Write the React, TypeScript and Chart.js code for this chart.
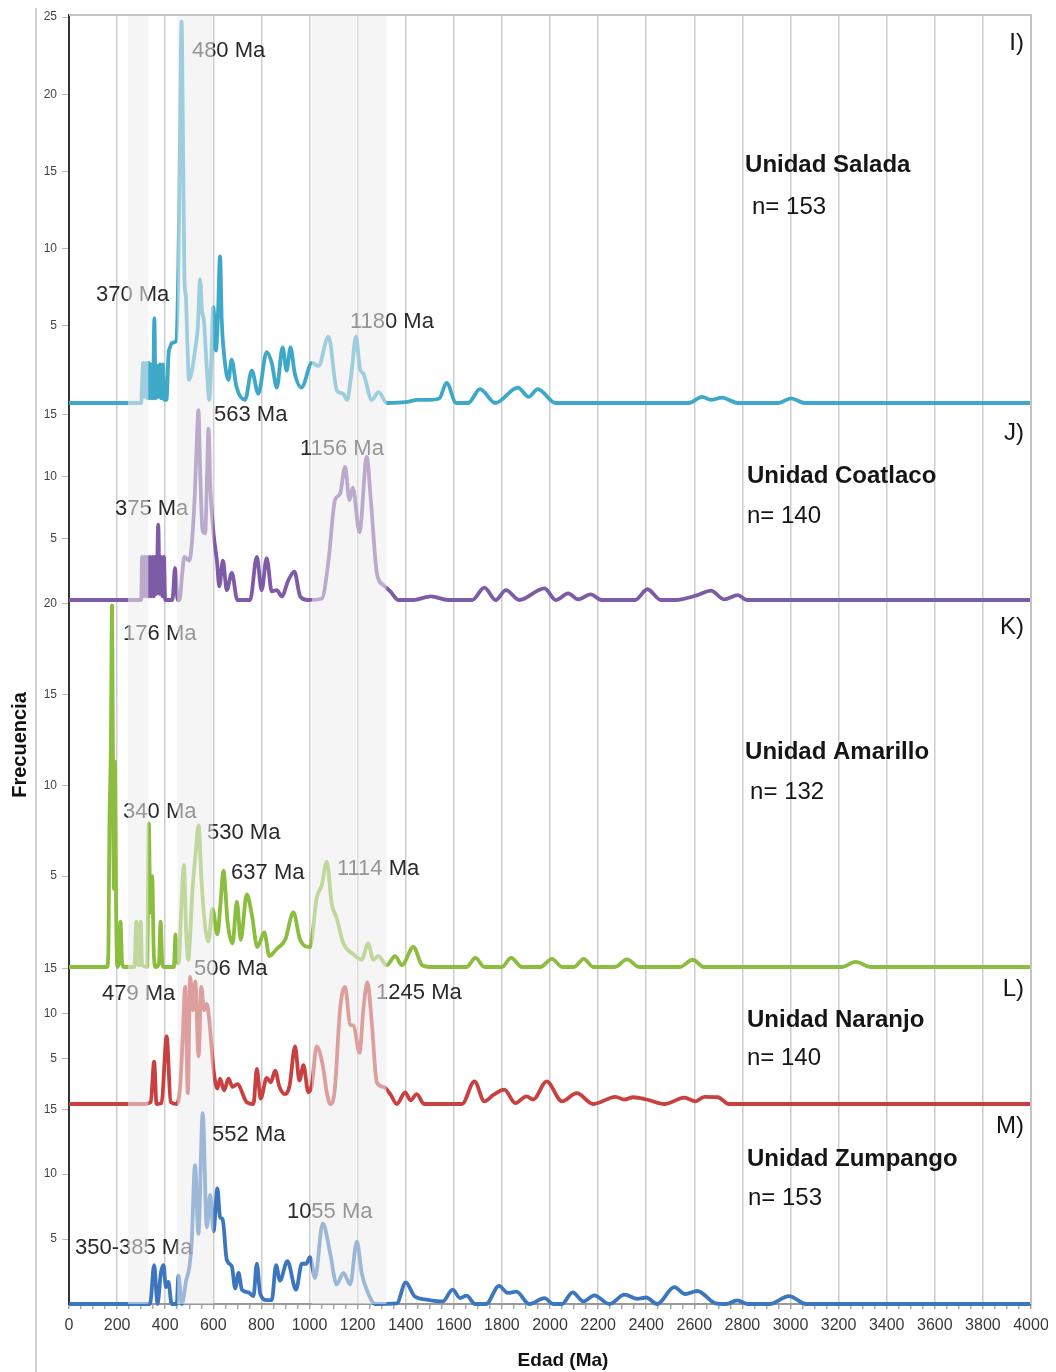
import React, { useEffect, useRef } from 'react';
import { Chart, registerables } from 'chart.js';

Chart.register(...registerables);

const FONT = "'Liberation Sans', Arial, Helvetica, sans-serif";

// ---------- data (age in Ma, relative frequency) ----------
const saladaAge = [0, 300, 308, 314, 320, 326, 332, 338, 344, 349, 355, 360, 366, 372, 378, 384, 390, 397, 405, 414, 420, 428, 445, 455, 462, 468, 474, 480, 486, 492, 499, 510, 524, 536, 545, 553, 561, 572, 584, 592, 600, 611, 620, 628, 635, 645, 663, 676, 697, 732, 760, 787, 822, 843, 864, 888, 905, 921, 939, 967, 1010, 1037, 1079, 1114, 1140, 1156, 1175, 1193, 1210, 1224, 1259, 1287, 1322, 1400, 1450, 1500, 1540, 1570, 1610, 1660, 1709, 1773, 1866, 1912, 1949, 2023, 2578, 2632, 2670, 2715, 2780, 2950, 3002, 3060, 4000];
const saladaFreq = [0, 0, 2.6, 0.4, 2.6, 0.3, 2.6, 0.3, 2.5, 0.3, 5.5, 0.3, 2.4, 0.4, 2.5, 0.3, 2.5, 0.2, 0.2, 3.2, 3.6, 3.9, 4.0, 9, 18, 24.7, 17, 8, 6.9, 4, 1.5, 2.0, 3.4, 5, 8.0, 6, 5.3, 2.5, 0.2, 3, 6.2, 3.4, 6, 9.5, 5.4, 3.1, 1.5, 2.8, 1.0, 0.2, 2.1, 0.6, 3.3, 2.6, 1.0, 3.6, 2.1, 3.6, 1.9, 1.0, 2.6, 2.4, 4.3, 0.8, 0.6, 0.2, 2, 4.3, 2.2, 1.9, 0.2, 0.7, 0, 0.05, 0.2, 0.2, 0.3, 1.3, 0, 0, 0.9, 0, 1.0, 0.4, 0.9, 0, 0, 0.4, 0.2, 0.35, 0, 0, 0.3, 0, 0];

const coatlacoAge = [0, 300, 304, 309, 315, 320, 326, 331, 337, 342, 348, 353, 359, 364, 371, 377, 383, 389, 395, 400, 430, 441, 452, 460, 470, 480, 500, 520, 530, 538, 546, 555, 566, 574, 580, 588, 601, 615, 625, 640, 656, 677, 700, 753, 781, 801, 822, 843, 864, 885, 912, 937, 961, 989, 1051, 1079, 1106, 1127, 1148, 1166, 1180, 1208, 1238, 1255, 1280, 1308, 1336, 1370, 1432, 1505, 1575, 1677, 1727, 1774, 1817, 1872, 1977, 2024, 2076, 2117, 2169, 2215, 2354, 2405, 2461, 2520, 2614, 2669, 2724, 2781, 2818, 4000];
const coatlacoFreq = [0, 0, 3.5, 0.3, 3.5, 0.3, 3.5, 0.3, 3.5, 0.3, 3.5, 0.3, 3.5, 0.5, 6.1, 0.5, 3.5, 0.3, 3.5, 0, 0, 2.6, 0, 0, 2, 3.5, 3.2, 7.3, 12, 15.4, 10, 5.7, 5.4, 10, 13.9, 9, 5.4, 3.2, 1.1, 3.2, 0.8, 2.2, 0, 0, 3.5, 0.8, 3.4, 0.7, 0.8, 0.3, 1.6, 2.3, 0.3, 0, 0.1, 3.2, 8.1, 8.6, 10.8, 8.1, 9.1, 5.5, 11.6, 8.1, 2.2, 1.2, 0.7, 0, 0, 0.3, 0, 0, 1.0, 0, 0.8, 0, 0.95, 0, 0.54, 0.05, 0.46, 0, 0, 0.87, 0, 0, 0.4, 0.76, 0.05, 0.4, 0, 0];

const amarilloAge = [0, 158, 164, 168, 174, 179, 184, 187, 191, 196, 201, 208, 214, 221, 229, 272, 280, 286, 292, 298, 304, 325, 332, 338, 346, 352, 360, 374, 381, 388, 394, 436, 443, 452, 457, 466, 478, 487, 496, 505, 513, 525, 539, 550, 561, 579, 597, 617, 630, 642, 660, 680, 698, 714, 739, 760, 783, 812, 833, 864, 899, 933, 961, 1002, 1030, 1051, 1072, 1092, 1113, 1141, 1182, 1217, 1244, 1265, 1286, 1321, 1356, 1384, 1432, 1468, 1502, 1653, 1690, 1727, 1800, 1838, 1884, 1960, 2008, 2050, 2100, 2140, 2180, 2270, 2320, 2370, 2540, 2593, 2640, 3215, 3270, 3335, 4000];
const amarilloFreq = [0, 0, 1, 7.6, 12, 19.9, 8, 4.3, 11.3, 3, 0, 0.3, 2.5, 0.2, 0, 0, 2.5, 0.2, 0.1, 2.5, 0.1, 0, 7.9, 3, 5.0, 1, 0, 0.2, 2.5, 0.2, 0, 0, 1.8, 0.2, 0.3, 3, 5.6, 2, 0.4, 2, 4.2, 6, 7.8, 5, 2.9, 1.4, 3.2, 1.8, 3.5, 5.3, 2.4, 1.3, 3.6, 1.5, 4.0, 2.9, 1.1, 1.9, 0.6, 1.0, 1.5, 3.0, 1.5, 1.1, 3.8, 4.5, 5.8, 3.5, 2.7, 1.3, 0.7, 0.4, 1.3, 0.4, 0.6, 0.1, 0.6, 0.1, 1.1, 0.1, 0, 0, 0.5, 0, 0, 0.5, 0, 0, 0.45, 0, 0, 0.45, 0, 0, 0.42, 0, 0, 0.4, 0, 0, 0.28, 0, 0];

const naranjoAge = [0, 315, 340, 354, 364, 385, 406, 423, 448, 462, 473, 483, 494, 504, 515, 525, 539, 550, 562, 573, 584, 601, 617, 628, 645, 663, 680, 700, 739, 767, 781, 797, 822, 839, 857, 875, 898, 917, 940, 958, 975, 995, 1009, 1030, 1055, 1072, 1086, 1104, 1127, 1148, 1169, 1183, 1208, 1224, 1241, 1259, 1280, 1308, 1336, 1363, 1398, 1420, 1446, 1477, 1634, 1686, 1727, 1764, 1810, 1856, 1902, 1930, 1986, 2050, 2111, 2180, 2272, 2309, 2346, 2402, 2476, 2559, 2605, 2642, 2698, 2744, 4000];
const naranjoFreq = [0, 0, 0.2, 4.7, 0, 0.1, 7.5, 0.2, 0, 1.9, 7.5, 13.0, 1.2, 14.1, 10.4, 13.6, 5.3, 13.0, 10.4, 11.1, 9.1, 3.8, 1.7, 2.8, 1.5, 2.8, 1.9, 2.2, 0.2, 0, 3.9, 0.6, 2.9, 2.4, 3.7, 1.9, 1.1, 2.0, 6.4, 2.6, 4.3, 1.3, 2.0, 6.4, 4.3, 1.3, 0, 1.3, 10.5, 13.0, 8.8, 8.7, 5.7, 10.5, 13.5, 9.0, 2.4, 1.9, 1.1, 0, 1.3, 0.4, 1.1, 0, 0, 2.5, 0.3, 1.0, 1.6, 0.1, 0.85, 0.5, 2.5, 0.3, 1.2, 0, 0.8, 0.5, 0.75, 0.5, 0, 0.7, 0.3, 0.8, 0.75, 0, 0];

const zumpangoAge = [0, 337, 354, 368, 382, 393, 403, 413, 427, 448, 455, 469, 487, 501, 510, 524, 538, 556, 573, 587, 601, 617, 628, 639, 656, 677, 691, 705, 719, 746, 767, 781, 795, 822, 843, 861, 877, 908, 944, 968, 986, 1002, 1023, 1055, 1086, 1113, 1141, 1169, 1197, 1217, 1238, 1273, 1363, 1400, 1437, 1491, 1554, 1595, 1626, 1653, 1689, 1734, 1788, 1824, 1860, 1914, 1977, 2013, 2049, 2094, 2139, 2184, 2247, 2310, 2364, 2400, 2445, 2517, 2562, 2613, 2688, 2733, 2778, 2823, 2913, 2994, 3066, 4000];
const zumpangoFreq = [0, 0, 3.0, 0, 2.4, 3.0, 1.3, 1.7, 0, 0, 2.2, 0, 1.8, 2.9, 4.7, 10.7, 5.4, 14.7, 5.9, 8.4, 5.6, 8.9, 6.7, 6.5, 3.4, 2.9, 1.2, 2.4, 1.1, 0.9, 0.6, 3.1, 0.8, 0.3, 0.3, 3.0, 1.8, 3.3, 1.1, 3.1, 3.1, 3.6, 2.0, 6.2, 3.9, 1.5, 2.4, 1.5, 4.8, 2.4, 1.1, 0, 0.05, 1.67, 0.6, 0.33, 0.2, 1.1, 0.46, 0.64, 0, 0, 1.4, 0.85, 0.95, 0, 0.46, 0, 0, 0.9, 0.2, 0.67, 0, 0.72, 0.4, 0.5, 0, 1.3, 0.77, 1.0, 0.05, 0, 0.28, 0, 0, 0.6, 0, 0];

// ---------- panels ----------
const panelIds = ['yI', 'yJ', 'yK', 'yL', 'yM'];
const panelNames = ['Unidad Salada', 'Unidad Coatlaco', 'Unidad Amarillo', 'Unidad Naranjo', 'Unidad Zumpango'];
const panelN = ['n= 153', 'n= 140', 'n= 132', 'n= 140', 'n= 153'];
const panelLetters = ['I)', 'J)', 'K)', 'L)', 'M)'];
const panelColors = ['#3ea8c9', '#7d5ba6', '#8bbd3e', '#c8403f', '#3b76be'];
const panelMax = [25.13, 15.97, 20.2, 15.2, 15.4];
const panelWeights = [388, 197, 367, 137, 200];
const panelTicks = [[5, 10, 15, 20, 25], [5, 10, 15], [5, 10, 15, 20], [5, 10, 15], [5, 10, 15]];
const panelAges = [saladaAge, coatlacoAge, amarilloAge, naranjoAge, zumpangoAge];
const panelFreqs = [saladaFreq, coatlacoFreq, amarilloFreq, naranjoFreq, zumpangoFreq];

// title anchors: [age, value] for name, n-count, letter
const nameAnchor = [[2811, 15.4], [2819, 10.06], [2811, 11.8], [2819, 9.3], [2819, 11.1]];
const countAnchor = [[2840, 12.7], [2819, 6.8], [2832, 9.6], [2819, 5.1], [2823, 8.1]];
const letterAnchor = [[3971, 23.3], [3971, 13.5], [3971, 18.7], [3971, 12.7], [3971, 13.7]];

// peak labels: text, age (left edge), value (centre), panel index
const peakLabels: [string, number, number, number][] = [
  ['480 Ma', 511, 22.8, 0],
  ['370 Ma', 112, 7.0, 0],
  ['1180 Ma', 1168, 5.25, 0],
  ['563 Ma', 603, 15.0, 1],
  ['1156 Ma', 960, 12.25, 1],
  ['375 Ma', 191, 7.4, 1],
  ['176 Ma', 225, 18.35, 2],
  ['340 Ma', 225, 8.54, 2],
  ['530 Ma', 574, 7.38, 2],
  ['637 Ma', 674, 5.18, 2],
  ['1114 Ma', 1114, 5.4, 2],
  ['506 Ma', 520, 15.0, 3],
  ['479 Ma', 137, 12.2, 3],
  ['1245 Ma', 1277, 12.3, 3],
  ['552 Ma', 595, 13.0, 4],
  ['1055 Ma', 906, 7.08, 4],
  ['350-385 Ma', 25, 4.3, 4],
];

// shaded age bands (Ma)
const bands = [[245, 330], [450, 600], [1010, 1320]];

const xMin = 0;
const xMax = 4000;
const xMajor = 200;
const xMinor = 50;

const overlayPlugin = {
  id: 'overlayTexts',
  afterDatasetsDraw(chart: any) {
    const { ctx } = chart;
    const xs = chart.scales.x;
    ctx.save();
    ctx.textBaseline = 'middle';
    ctx.textAlign = 'left';
    ctx.fillStyle = '#2a2a2a';
    ctx.font = `22px ${FONT}`;
    peakLabels.forEach(([t, age, v, p]) => {
      const ys = chart.scales[panelIds[p]];
      ctx.fillText(t, xs.getPixelForValue(age), ys.getPixelForValue(v));
    });
    panelIds.forEach((id, i) => {
      const ys = chart.scales[id];
      ctx.fillStyle = '#151515';
      ctx.textAlign = 'left';
      ctx.font = `bold 24px ${FONT}`;
      ctx.fillText(panelNames[i], xs.getPixelForValue(nameAnchor[i][0]), ys.getPixelForValue(nameAnchor[i][1]));
      ctx.font = `24px ${FONT}`;
      ctx.fillText(panelN[i], xs.getPixelForValue(countAnchor[i][0]), ys.getPixelForValue(countAnchor[i][1]));
      ctx.textAlign = 'right';
      ctx.fillText(panelLetters[i], xs.getPixelForValue(letterAnchor[i][0]), ys.getPixelForValue(letterAnchor[i][1]));
    });
    ctx.restore();
  },
  afterDraw(chart: any) {
    const { ctx, chartArea } = chart;
    const xs = chart.scales.x;
    ctx.save();
    // translucent age bands drawn over everything in the plot
    ctx.fillStyle = 'rgba(236,236,236,0.55)';
    bands.forEach(([a, b]) => {
      const x0 = xs.getPixelForValue(a);
      const x1 = xs.getPixelForValue(b);
      ctx.fillRect(x0, chartArea.top, x1 - x0, chartArea.bottom - chartArea.top);
    });
    // frame
    ctx.strokeStyle = '#c4c4c4';
    ctx.lineWidth = 2;
    ctx.beginPath();
    ctx.moveTo(chartArea.left, chartArea.top);
    ctx.lineTo(chartArea.right, chartArea.top);
    ctx.lineTo(chartArea.right, chartArea.bottom);
    ctx.stroke();
    ctx.strokeStyle = '#cfcfcf';
    ctx.beginPath();
    ctx.moveTo(28, 0);
    ctx.lineTo(28, chart.height);
    ctx.stroke();
    // axis titles
    ctx.fillStyle = '#111';
    ctx.font = `bold 20px ${FONT}`;
    ctx.textAlign = 'center';
    ctx.textBaseline = 'middle';
    ctx.save();
    ctx.translate(12, 737);
    ctx.rotate(-Math.PI / 2);
    ctx.fillText('Frecuencia', 0, 0);
    ctx.restore();
    ctx.font = `bold 19px ${FONT}`;
    ctx.fillText('Edad (Ma)', 555, 1353);
    ctx.restore();
  },
};

export default function App() {
  const ref = useRef<HTMLCanvasElement | null>(null);

  useEffect(() => {
    if (!ref.current) return;
    const datasets = panelIds.map((id, i) => ({
      label: panelNames[i],
      data: panelAges[i].map((a, k) => ({ x: a, y: panelFreqs[i][k] })),
      yAxisID: id,
      borderColor: panelColors[i],
      borderWidth: 3.8,
      borderJoinStyle: 'round' as const,
      pointRadius: 0,
      fill: false,
      cubicInterpolationMode: 'monotone' as const,
      clip: false as any,
    }));

    const scales: any = {
      x: {
        type: 'linear',
        min: xMin,
        max: xMax,
        ticks: {
          stepSize: xMinor,
          autoSkip: false,
          maxRotation: 0,
          padding: 7,
          color: '#3a3a3a',
          font: { family: FONT, size: 16 },
          callback: (v: number) => (v % xMajor === 0 ? String(v) : ''),
        },
        grid: {
          color: (c: any) => (c.tick && c.tick.value % xMajor === 0 ? '#cdcdcd' : 'rgba(0,0,0,0)'),
          tickColor: '#aaaaaa',
          lineWidth: 1.5,
          tickLength: 5,
        },
        border: { color: '#9a9a9a', width: 2 },
        afterFit: (s: any) => {
          s.height = 68;
          s.paddingLeft = 0;
          s.paddingRight = 0;
        },
      },
    };
    panelIds.forEach((id, i) => {
      scales[id] = {
        type: 'linear',
        position: 'left',
        stack: 'units',
        stackWeight: panelWeights[i],
        weight: 10 - i,
        min: 0,
        max: panelMax[i],
        offset: false,
        ticks: {
          color: '#444',
          padding: 5,
          font: { family: FONT, size: 12 },
        },
        grid: { drawOnChartArea: false, tickLength: 7, color: '#bdbdbd' },
        border: { color: '#333', width: 2 },
        afterBuildTicks: (s: any) => {
          s.ticks = panelTicks[i].map((v) => ({ value: v }));
        },
        afterFit: (s: any) => {
          s.width = 61;
          s.paddingTop = 0;
          s.paddingBottom = 0;
        },
      };
    });

    const chart = new Chart(ref.current, {
      type: 'line',
      data: { datasets },
      options: {
        responsive: false,
        animation: false,
        devicePixelRatio: 1,
        events: [],
        layout: { padding: { left: 0, right: 17, top: 7, bottom: 0 } },
        plugins: { legend: { display: false }, tooltip: { enabled: false } },
        scales,
      },
      plugins: [overlayPlugin],
    } as any);
    return () => chart.destroy();
  }, []);

  return (
    <div style={{ width: 1040, height: 1364 }}>
      <canvas ref={ref} width={1040} height={1364} style={{ display: 'block', width: 1040, height: 1364 }} />
    </div>
  );
}
